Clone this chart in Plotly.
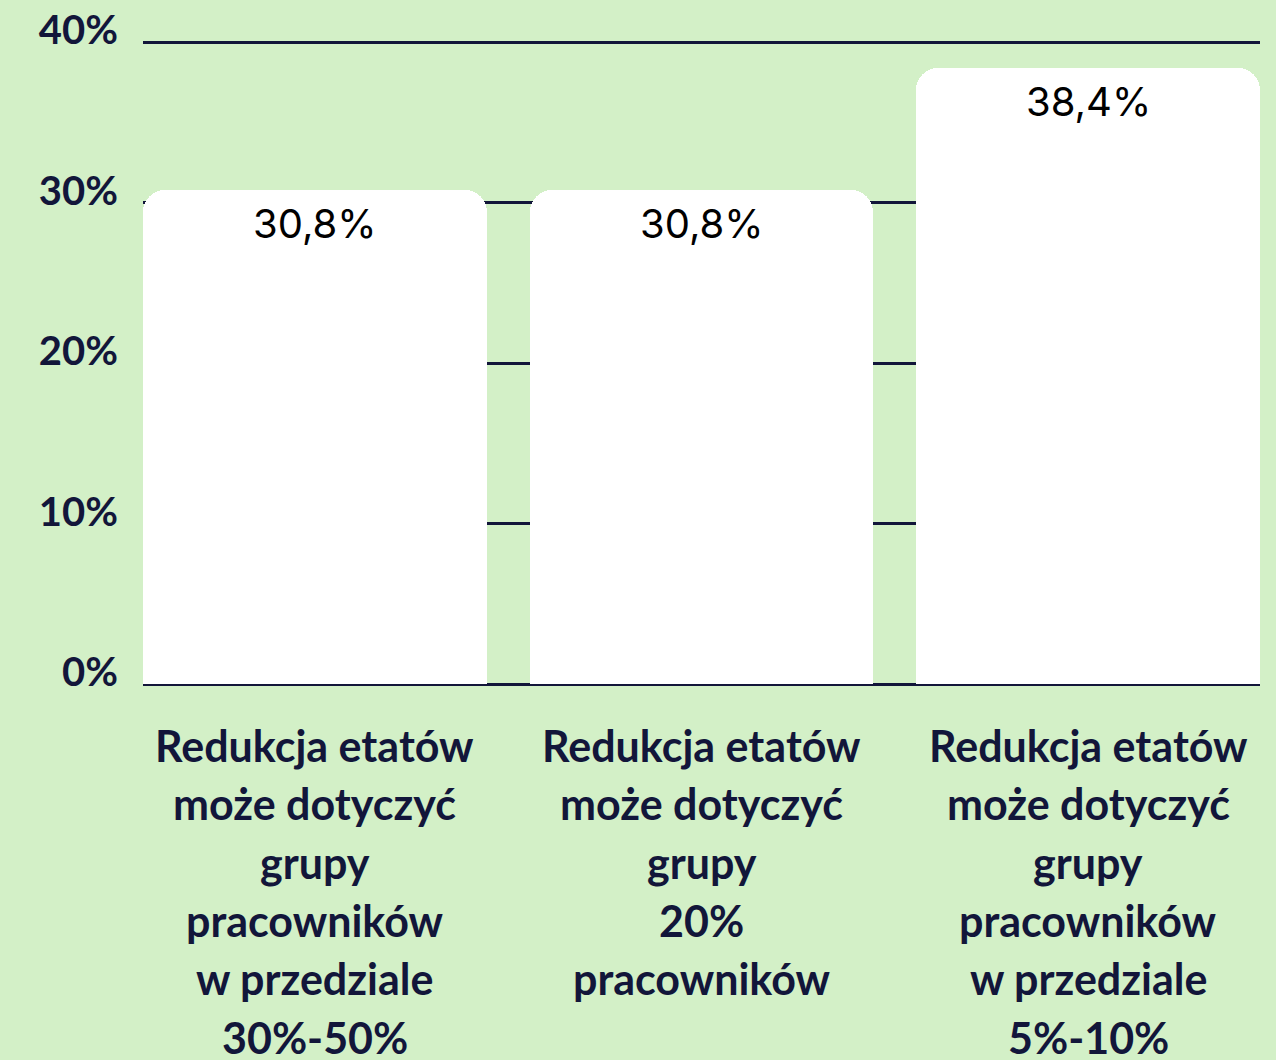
import plotly.graph_objects as go

# data
categories = ["A", "B", "C"]
labels = [
    ["Redukcja etatów", "może dotyczyć", "grupy", "pracowników", "w przedziale", "30%-50%"],
    ["Redukcja etatów", "może dotyczyć", "grupy", "20%", "pracowników"],
    ["Redukcja etatów", "może dotyczyć", "grupy", "pracowników", "w przedziale", "5%-10%"],
]
values = [30.8, 30.8, 38.4]
ticks = [0, 10, 20, 30, 40]

navy = "#12163a"
bg = "#d3f0c7"

fig = go.Figure()

fig.add_trace(go.Bar(
    x=categories,
    y=values,
    width=0.889,
    marker=dict(color="white", line=dict(width=0), cornerradius=22),
    hoverinfo="skip",
))

# value labels near the top of each bar
for cat, v in zip(categories, values):
    fig.add_annotation(
        x=cat, y=v, xref="x", yref="y",
        text=f"{v:.1f}%".replace(".", ","), showarrow=False,
        yanchor="middle", yshift=-34,
        font=dict(family="Inter", size=40, color="black"),
    )

# category labels, one annotation per line for the wider line spacing
for cat, lines in zip(categories, labels):
    for i, line in enumerate(lines):
        fig.add_annotation(
            x=cat, y=0, xref="x", yref="y",
            text=line, showarrow=False,
            yanchor="middle", yshift=-(61 + i * 58.4),
            font=dict(family="Lato", size=43, color=navy, weight=700),
        )

fig.update_xaxes(
    range=[-0.4445, 2.4445],
    showticklabels=False,
    showgrid=False,
    showline=False,
    zeroline=False,
)

fig.update_yaxes(
    range=[-0.1, 40.2],
    tickvals=ticks,
    ticktext=[f"{t}%" for t in ticks],
    showgrid=True, gridcolor=navy, gridwidth=3,
    zeroline=False,
    tickfont=dict(family="Lato", size=40, color=navy, weight=700),
    ticklabelstandoff=24,
    ticklabelshift=-12,
    automargin=False,
)

fig.update_layout(
    width=1276, height=1060,
    margin=dict(l=143, r=16, t=39, b=374),
    paper_bgcolor=bg, plot_bgcolor=bg,
    showlegend=False,
    bargap=0,
)

fig.write_html("out.html", config={"displayModeBar": False},
               post_script="document.body.style.margin='0';")
